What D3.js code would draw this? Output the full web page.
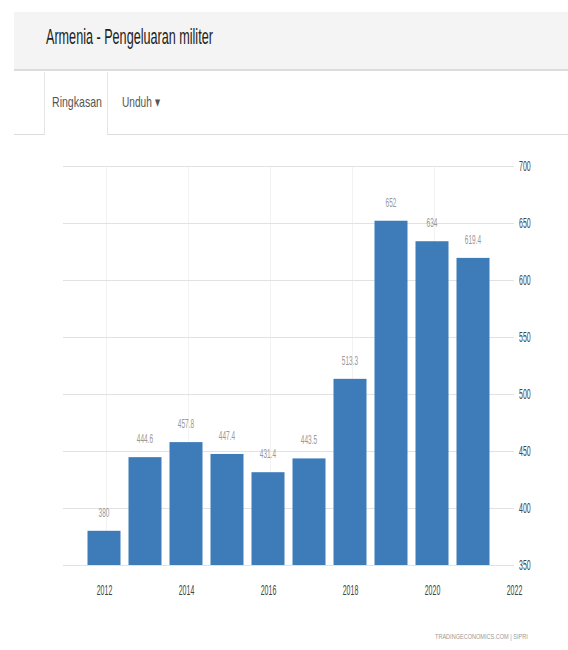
<!DOCTYPE html>
<html><head><meta charset="utf-8">
<script src="https://cdn.jsdelivr.net/npm/d3@7"></script>
<style>body{margin:0;background:#fff;font-family:Arial,"Liberation Sans",sans-serif;}</style>
</head><body>
<svg id="c" width="568" height="650"></svg>
<script>
const years = [2012,2013,2014,2015,2016,2017,2018,2019,2020,2021];
const values = [380.0,444.6,457.8,447.4,431.4,443.5,513.3,652,634,619.4];
const labels = ["380","444.6","457.8","447.4","431.4","443.5","513.3","652","634","619.4"];
const yTicks = [350,400,450,500,550,600,650,700];
const xTicks = [2012,2014,2016,2018,2020,2022];

const svg = d3.select("#c");
function fit(sel, w){ // condense text horizontally to width w
  sel.each(function(){
    const l = this.getComputedTextLength();
    const s = w/l;
    const x = +this.getAttribute("x")||0;
    d3.select(this).attr("transform",`translate(${x*(1-s)},0) scale(${s},1)`);
  });
}
// header
svg.append("rect").attr("x",14).attr("y",12).attr("width",554).attr("height",57).attr("fill","#f4f4f4");
svg.append("rect").attr("x",14).attr("y",69).attr("width",554).attr("height",2).attr("fill","#dcdcdc");
svg.append("text").attr("x",46).attr("y",44).attr("font-size",22).attr("fill","#222")
  .text("Armenia - Pengeluaran militer").call(fit,167);
// tabs
svg.append("line").attr("x1",14).attr("x2",44).attr("y1",134.5).attr("y2",134.5).attr("stroke","#ddd");
svg.append("line").attr("x1",107).attr("x2",568).attr("y1",134.5).attr("y2",134.5).attr("stroke","#ddd");
svg.append("line").attr("x1",44.5).attr("x2",44.5).attr("y1",72).attr("y2",135).attr("stroke","#e6e6e6");
svg.append("line").attr("x1",107.5).attr("x2",107.5).attr("y1",72).attr("y2",135).attr("stroke","#e6e6e6");
svg.append("text").attr("x",52).attr("y",107).attr("font-size",15).attr("fill","#555").text("Ringkasan").call(fit,50);
svg.append("text").attr("x",122).attr("y",107).attr("font-size",15).attr("fill","#555").text("Unduh \u25BE").call(fit,38);

// chart
const x = d3.scaleLinear().domain([2011,2022]).range([63,514]);
const y = d3.scaleLinear().domain([350,700]).range([565,166]);
const g = svg.append("g");
g.selectAll(".vg").data(xTicks.slice(0,-1)).join("line")
  .attr("x1",d=>x(d)+2.5).attr("x2",d=>x(d)+2.5).attr("y1",166).attr("y2",565)
  .attr("stroke","#f2f2f2");
g.selectAll(".hg").data(yTicks).join("line")
  .attr("x1",63).attr("x2",514).attr("y1",d=>Math.round(y(d))+0.5).attr("y2",d=>Math.round(y(d))+0.5)
  .attr("stroke","#e2e2e2");
const bw = 33;
g.selectAll(".bar").data(values).join("rect")
  .attr("x",(d,i)=>x(years[i])-bw/2).attr("width",bw)
  .attr("y",d=>y(d)).attr("height",d=>y(350)-y(d)).attr("fill","#3d7cb9");
g.selectAll(".lbl").data(values).join("text")
  .attr("x",(d,i)=>x(years[i])).attr("y",d=>y(d)-14)
  .attr("text-anchor","middle").attr("font-size",13).attr("fill","#999")
  .text((d,i)=>labels[i]).each(function(){
    const s=0.5;
    const xx=+this.getAttribute("x");
    d3.select(this).attr("transform",`translate(${xx*(1-s)},0) scale(${s},1)`);
  });
// x axis
const xa = svg.append("g").attr("transform","translate(0,582)")
  .call(d3.axisBottom(x).tickValues(xTicks).tickFormat(d3.format("d")).tickSize(0));
xa.select(".domain").remove();
xa.selectAll("text").attr("font-size",14).attr("fill","#444").attr("font-family","Arial, Liberation Sans")
  .attr("transform","scale(0.5,1)");
// y axis
const ya = svg.append("g").attr("transform","translate(514,0)")
  .call(d3.axisRight(y).tickValues(yTicks).tickSize(0));
ya.select(".domain").remove();
ya.selectAll("text").attr("font-size",14).attr("fill","#444").attr("font-family","Arial, Liberation Sans")
  .attr("transform","scale(0.5,1)").attr("x",5/0.5);
// footer
svg.append("text").attr("x",435).attr("y",639).attr("font-size",8).attr("fill","#9a9a9a")
  .text("TRADINGECONOMICS.COM  |  SIPRI").call(fit,93);
</script>
</body></html>
